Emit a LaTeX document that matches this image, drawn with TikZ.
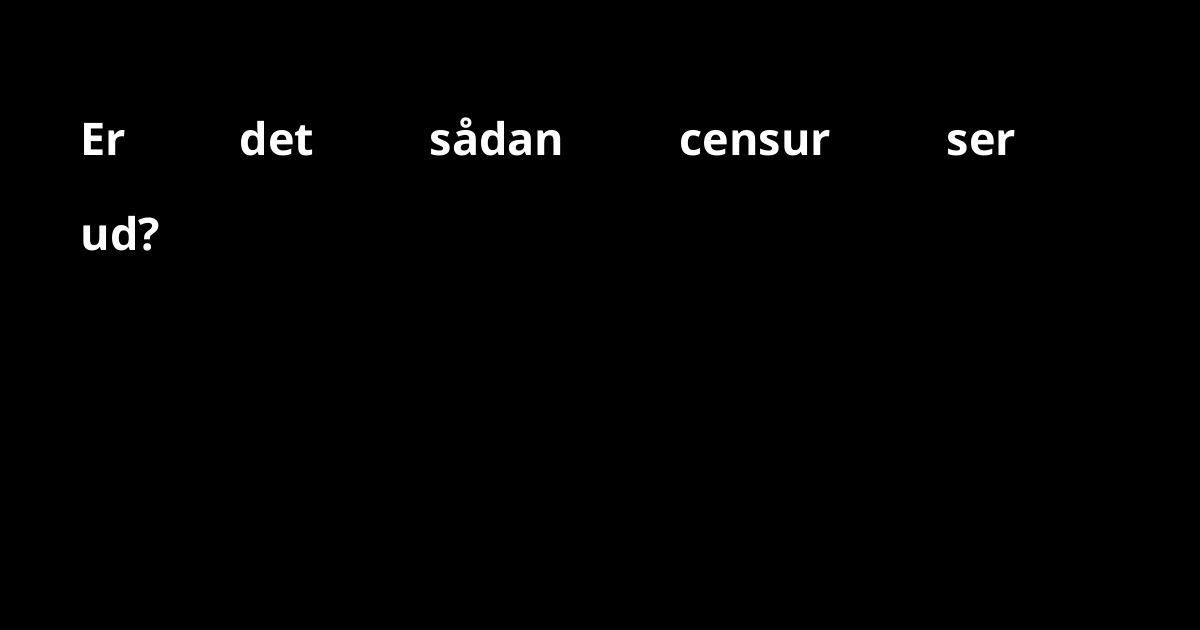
\documentclass[tikz,border=0pt]{standalone}
\usepackage{fontspec}
\setmainfont{Open Sans}
\usepackage{tikz}
\usetikzlibrary{positioning}

\begin{document}
\begin{tikzpicture}[
  word/.style={anchor=base west, inner sep=0pt, text=white, font=\fontsize{12.8}{16}\selectfont\bfseries}
]

% Background
\fill[black] (0,0) rectangle (12,6.3);

% First line
\node[word] (er) at (0.80,4.74) {Er};
\node[word] (det) at (2.39,4.74) {det};
\node[word] (sadan) at (4.29,4.74) {sådan};
\node[word] (censur) at (6.79,4.74) {censur};
\node[word] (ser) at (9.46,4.74) {ser};

% Second line
\node[word] (ud) at (0.80,3.79) {ud?};

\end{tikzpicture}
\end{document}
